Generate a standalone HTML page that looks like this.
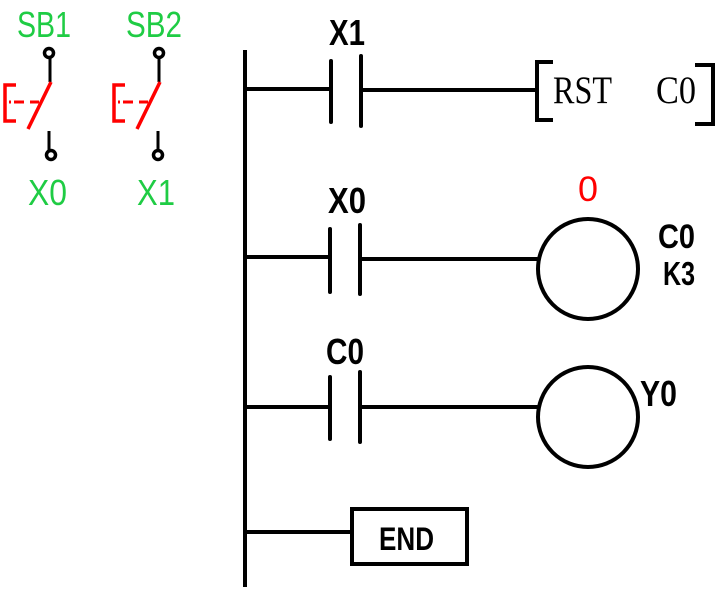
<!DOCTYPE html>
<html><head><meta charset="utf-8"><style>
html,body{margin:0;padding:0;background:#fff}
svg{display:block}
.g{fill:#1fcc44;font-family:"Liberation Sans",sans-serif;font-size:36px}
.b{fill:#000;font-family:"Liberation Sans",sans-serif;font-size:36px;font-weight:bold}
.s{fill:#000;font-family:"Liberation Serif",serif;font-size:39px}
</style></head><body>
<svg width="716" height="590" viewBox="0 0 716 590" xmlns="http://www.w3.org/2000/svg">
<g id="sw">
<text class="g" x="17" y="37" textLength="54" lengthAdjust="spacingAndGlyphs">SB1</text>
<circle cx="49" cy="53" r="4.5" fill="none" stroke="#000" stroke-width="3.5"/>
<line x1="50" y1="57" x2="50" y2="82" stroke="#000" stroke-width="3"/>
<line x1="51" y1="82" x2="28" y2="129" stroke="#f00" stroke-width="3.5"/>
<path d="M16 85 H5 V121 H16" fill="none" stroke="#f00" stroke-width="3.5"/>
<line x1="9" y1="102" x2="11" y2="102" stroke="#f00" stroke-width="3"/>
<line x1="14" y1="102" x2="24" y2="102" stroke="#f00" stroke-width="3"/>
<line x1="30" y1="102" x2="39" y2="102" stroke="#f00" stroke-width="3"/>
<line x1="49" y1="131" x2="49" y2="151" stroke="#000" stroke-width="3"/>
<circle cx="51" cy="155" r="4.5" fill="none" stroke="#000" stroke-width="3.5"/>
<text class="g" x="28" y="205" textLength="39" lengthAdjust="spacingAndGlyphs">X0</text>
</g>
<g transform="translate(109,0)">
<text class="g" x="17" y="37" textLength="56" lengthAdjust="spacingAndGlyphs">SB2</text>
<circle cx="50" cy="53" r="4.5" fill="none" stroke="#000" stroke-width="3.5"/>
<line x1="50" y1="57" x2="50" y2="82" stroke="#000" stroke-width="3"/>
<line x1="51" y1="82" x2="28" y2="129" stroke="#f00" stroke-width="3.5"/>
<path d="M16 85 H5 V121 H16" fill="none" stroke="#f00" stroke-width="3.5"/>
<line x1="9" y1="102" x2="11" y2="102" stroke="#f00" stroke-width="3"/>
<line x1="14" y1="102" x2="24" y2="102" stroke="#f00" stroke-width="3"/>
<line x1="30" y1="102" x2="39" y2="102" stroke="#f00" stroke-width="3"/>
<line x1="49" y1="131" x2="49" y2="151" stroke="#000" stroke-width="3"/>
<circle cx="49" cy="155" r="4.5" fill="none" stroke="#000" stroke-width="3.5"/>
<text class="g" x="28" y="205" textLength="38" lengthAdjust="spacingAndGlyphs">X1</text>
</g>

<g stroke="#000" stroke-width="4" fill="none" stroke-linecap="round">
<line x1="245" y1="50" x2="245" y2="587" stroke-linecap="butt"/>
<line x1="245" y1="89" x2="330" y2="89"/>
<line x1="331" y1="61" x2="331" y2="122"/>
<line x1="361" y1="56" x2="361" y2="126"/>
<line x1="363" y1="90" x2="536" y2="90"/>
<path d="M553 62 H537 V120 H553" stroke-linecap="butt"/>
<path d="M695 65 H713 V124 H695" stroke-linecap="butt"/>
<line x1="245" y1="257" x2="330" y2="257"/>
<line x1="330" y1="229" x2="330" y2="292"/>
<line x1="360" y1="225" x2="360" y2="294"/>
<line x1="362" y1="259" x2="537" y2="259"/>
<circle cx="588" cy="269" r="50"/>
<line x1="245" y1="407" x2="330" y2="407"/>
<line x1="330" y1="377" x2="330" y2="439"/>
<line x1="360" y1="372" x2="360" y2="442"/>
<line x1="362" y1="407" x2="537" y2="407"/>
<circle cx="588" cy="417" r="50"/>
<line x1="245" y1="532" x2="351" y2="532"/>
<rect x="352" y="509" width="115" height="55" stroke-linecap="butt"/>
</g>
<text class="s" x="553" y="103" textLength="59" lengthAdjust="spacingAndGlyphs">RST</text>
<text class="s" x="656" y="103" textLength="40" lengthAdjust="spacingAndGlyphs">C0</text>
<text class="b" x="329" y="45" textLength="36" lengthAdjust="spacingAndGlyphs">X1</text>
<text class="b" x="328" y="213" textLength="38" lengthAdjust="spacingAndGlyphs">X0</text>
<text x="578" y="201" fill="#f00" font-family="Liberation Sans,sans-serif" font-size="35" textLength="20" lengthAdjust="spacingAndGlyphs">0</text>
<text class="b" x="658" y="248" style="font-size:34px" textLength="37" lengthAdjust="spacingAndGlyphs">C0</text>
<text class="b" x="663" y="285" style="font-size:33px" textLength="32" lengthAdjust="spacingAndGlyphs">K3</text>
<text class="b" x="326" y="364" textLength="38" lengthAdjust="spacingAndGlyphs">C0</text>
<text class="b" x="640" y="406" textLength="37" lengthAdjust="spacingAndGlyphs">Y0</text>
<text class="b" x="379" y="550" style="font-size:32px" textLength="55" lengthAdjust="spacingAndGlyphs">END</text>
</svg>
</body></html>
